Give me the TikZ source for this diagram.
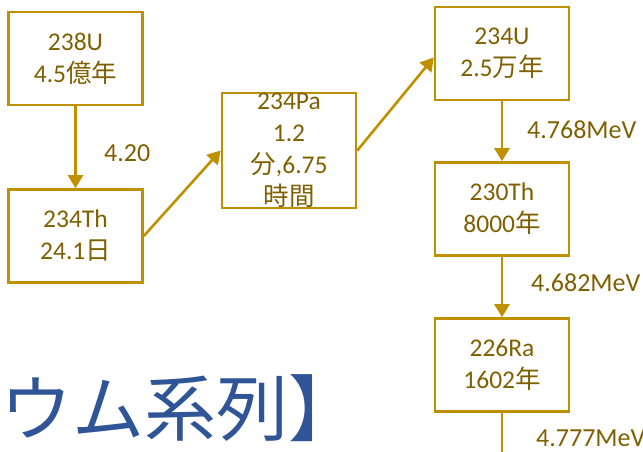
\documentclass[tikz,border=0pt]{standalone}
\usepackage{fontspec}
\setmainfont{Carlito}
\newfontfamily\jp{Noto Sans CJK JP}
\usetikzlibrary{arrows.meta}
\definecolor{boxgold}{HTML}{BF9000}
\definecolor{txtgold}{HTML}{7F6000}
\definecolor{titleblue}{HTML}{2F5597}
\tikzset{
  nuc/.style={draw=boxgold, line width=2.6pt, minimum width=134pt, minimum height=93pt,
    inner sep=0pt, align=center, text=txtgold, font=\fontsize{25.5}{32}\selectfont},
  conn/.style={draw=boxgold, line width=2.6pt, -{Triangle[width=15pt,length=13pt]}},
  plain/.style={draw=boxgold, line width=2.6pt},
  lbl/.style={text=txtgold, font=\fontsize{26}{30}\selectfont, inner sep=0pt, anchor=west}
}
\begin{document}
\begin{tikzpicture}[x=1pt,y=-1pt]
\useasboundingbox (0,0) rectangle (643,452);
\node[nuc] (u238) at (75.5,58.5) {238U\\4.5{\jp 億年}};
\node[nuc] (th234) at (75.5,236) {234Th\\24.1{\jp 日}};
\node[nuc] (pa234) at (289,150.5) {234Pa\\1.2\\{\jp 分},6.75\\{\jp 時間}};
\node[nuc] (u234) at (502,53.5) {234U\\2.5{\jp 万年}};
\node[nuc] (th230) at (502,209) {230Th\\8000{\jp 年}};
\node[nuc] (ra226) at (502,365) {226Ra\\1602{\jp 年}};
\coordinate (bot) at (502,460);
\draw[conn] (u238.south) -- (th234.north);
\draw[conn] (th234.east) -- (pa234.west);
\draw[conn] (pa234.east) -- ([yshift=-4pt]u234.west);
\draw[conn] (u234.south) -- (th230.north);
\draw[conn] (th230.south) -- (ra226.north);
\draw[plain] (ra226.south) -- (bot);
\node[lbl] (l1) at (104,153) {4.20};
\node[lbl] (l2) at (527,130) {4.768MeV};
\node[lbl] (l3) at (531,283) {4.682MeV};
\node[lbl] (l4) at (536,438) {4.777MeV};
\node[anchor=west, inner sep=0pt, text=titleblue, font=\jp\fontsize{72}{74}\selectfont] (title) at (0,408) {ウム系列】};
\end{tikzpicture}
\end{document}
